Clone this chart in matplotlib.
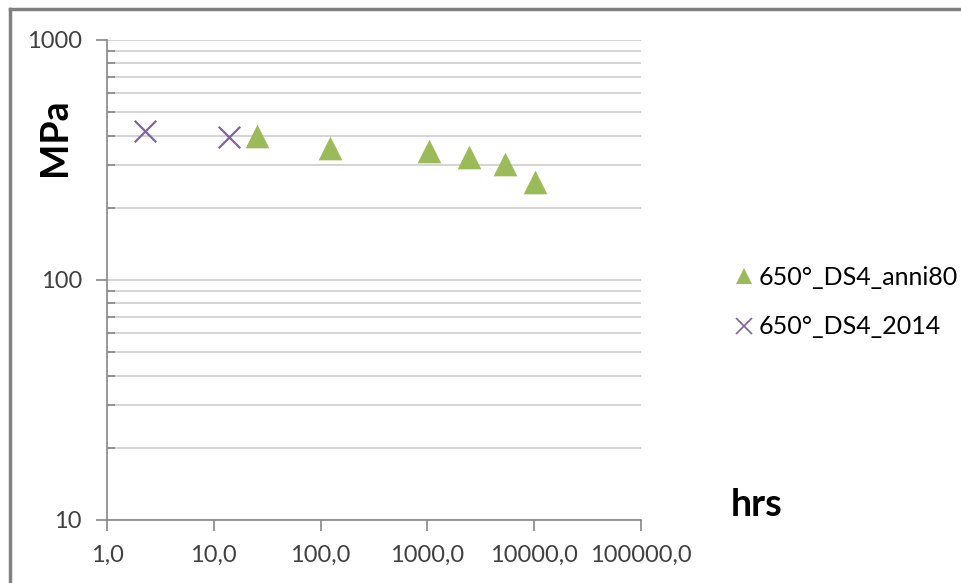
import matplotlib
matplotlib.use('Agg')
import matplotlib.pyplot as plt
from matplotlib.ticker import FixedLocator, FixedFormatter, NullFormatter
from matplotlib.lines import Line2D

plt.rcParams['font.family'] = ['Lato', 'DejaVu Sans']

# 650° DS4, anni 80 (triangles)
hrs_80 = [25.4, 122, 1035, 2450, 5330, 10170]
mpa_80 = [398, 355, 346, 325, 303, 256]

# 650° DS4, 2014 (crosses)
hrs_14 = [2.27, 13.9]
mpa_14 = [418, 394]

x_ticks = [1, 10, 100, 1000, 10000, 100000]
x_labels = ['1,0', '10,0', '100,0', '1000,0', '10000,0', '100000,0']
y_ticks = [10, 100, 1000]
y_labels = ['10', '100', '1000']

GREEN = '#9BBB59'
PURPLE = '#8064A2'
AXIS = '#868686'
GRID = '#D4D4D4'

fig = plt.figure(figsize=(9.62, 5.83), dpi=100)
W, H = 962, 583
ax = fig.add_axes([107 / W, (H - 520) / H, (641 - 107) / W, 480 / H])

ax.set_xscale('log')
ax.set_yscale('log')
ax.set_xlim(1, 100000)
ax.set_ylim(10, 1000)

ax.scatter(hrs_80, mpa_80, marker='^', s=290, color=GREEN, linewidths=0, zorder=3)
ax.scatter(hrs_14, mpa_14, marker='x', s=240, color=PURPLE, linewidths=1.6, zorder=3)

# axes styling, Excel look
for side in ['top', 'right']:
    ax.spines[side].set_visible(False)
for side in ['left', 'bottom']:
    ax.spines[side].set_color(AXIS)
    ax.spines[side].set_linewidth(1.2)

ax.xaxis.set_major_locator(FixedLocator(x_ticks))
ax.xaxis.set_major_formatter(FixedFormatter(x_labels))
ax.xaxis.set_minor_locator(FixedLocator([]))
ax.yaxis.set_major_locator(FixedLocator(y_ticks))
ax.yaxis.set_major_formatter(FixedFormatter(y_labels))
minor_y = [m * d for d in [10, 100] for m in range(2, 10)]
ax.yaxis.set_minor_locator(FixedLocator(minor_y))
ax.yaxis.set_minor_formatter(NullFormatter())

ax.tick_params(axis='both', which='major', direction='out', length=8, width=1.2,
               color=AXIS, labelsize=17, labelcolor='#404040')
ax.tick_params(axis='y', which='major', pad=10)
ax.tick_params(axis='x', which='major', pad=10)
ax.tick_params(axis='y', which='minor', direction='in', length=6, width=1.2, color=AXIS)

ax.grid(axis='y', which='both', color=GRID, linewidth=1.4, zorder=0)
ax.set_axisbelow(True)

# axis titles placed like in the original sheet
fig.text(55 / W, 1 - 137 / H, 'MPa', rotation=90, ha='center', va='center',
         fontsize=27, fontweight='bold', color='black')
fig.text(757 / W, 1 - 505 / H, 'hrs', ha='center', va='center',
         fontsize=27, fontweight='bold', color='black')

handles = [
    Line2D([], [], marker='^', linestyle='none', color=GREEN, markersize=12, markeredgewidth=0),
    Line2D([], [], marker='x', linestyle='none', color=PURPLE, markersize=12, markeredgewidth=1.2),
]
fig.legend(handles, ['650°_DS4_anni80', '650°_DS4_2014'], loc='upper left',
           bbox_to_anchor=(722 / W, 1 - 256 / H), frameon=False, fontsize=18,
           handletextpad=0.05, handlelength=1.0, labelspacing=1.05, borderaxespad=0)

# outer chart frame (only top and left edge visible in the crop)
fig.add_artist(Line2D([10 / W, 10 / W], [0, 1 - 9 / H], color='#808080', linewidth=2.5))
fig.add_artist(Line2D([10 / W, 1], [1 - 9 / H, 1 - 9 / H], color='#808080', linewidth=2.5))

fig.savefig('out.png', dpi=100, facecolor='white')
